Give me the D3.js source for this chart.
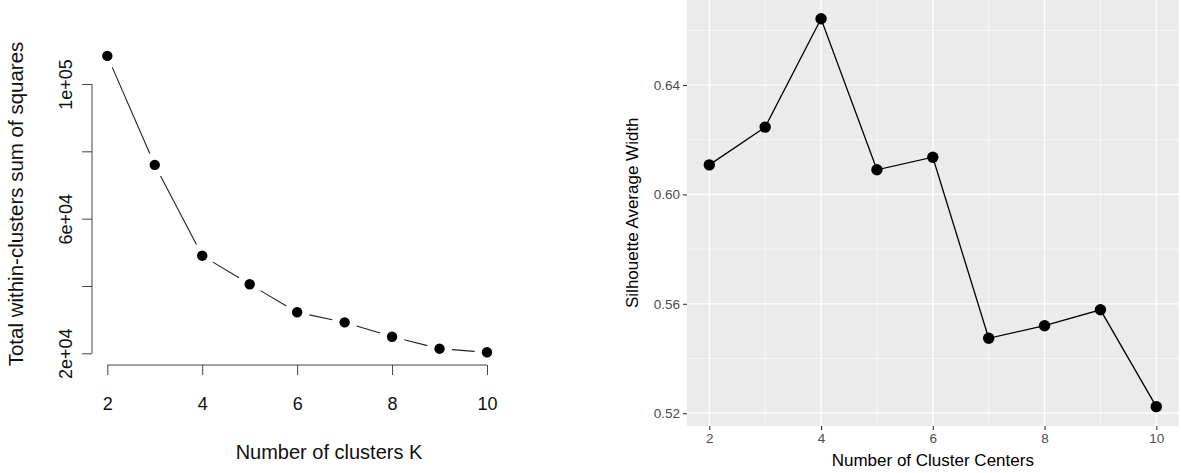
<!DOCTYPE html>
<html>
<head>
<meta charset="utf-8">
<script src="https://cdn.jsdelivr.net/npm/d3@7"></script>
<style>
  body { margin: 0; background: #fff; }
  svg { display: block; font-family: "Liberation Sans", Arial, sans-serif; }
</style>
</head>
<body>
<div class="chart"></div>
<script>
// left panel: elbow plot
const kValues = [2, 3, 4, 5, 6, 7, 8, 9, 10];
const wss = [108350, 75960, 49000, 40500, 32180, 29200, 24930, 21370, 20300];
const wssTicks = [20000, 40000, 60000, 80000, 100000];
const wssTickLabels = ["2e+04", "", "6e+04", "", "1e+05"];
const kTicks = [2, 4, 6, 8, 10];

// right panel: silhouette plot
const centers = [2, 3, 4, 5, 6, 7, 8, 9, 10];
const silhouette = [0.6108, 0.6246, 0.6642, 0.6090, 0.6136, 0.5474, 0.5520, 0.5578, 0.5224];
const silTicks = [0.52, 0.56, 0.60, 0.64];
const silMinor = [0.54, 0.58, 0.62, 0.66];
const centerTicks = [2, 4, 6, 8, 10];
const centerMinor = [3, 5, 7, 9];

const W = 1181, H = 473;

let svg = d3.select('.chart')
  .append('svg')
  .attr('width', W)
  .attr('height', H);

// ---------- left chart ----------
let xL = d3.scaleLinear().domain([2, 10]).range([107.3, 487]);
let yL = d3.scaleLinear().domain([20000, 100000]).range([353.3, 84]);
const axisLeftX = 92, axisBottomY = 365;

let left = svg.append('g');

// y axis
let yAxisL = d3.axisLeft(yL)
  .tickValues(wssTicks)
  .tickFormat((d, i) => wssTickLabels[i])
  .tickSize(10)
  .tickSizeOuter(0);

let gy = left.append('g')
  .attr('transform', 'translate(' + axisLeftX + ',0)')
  .call(yAxisL);
gy.select('.domain')
  .attr('d', 'M0,' + yL(wssTicks[0]) + 'V' + yL(wssTicks[wssTicks.length - 1]));
gy.selectAll('line, path').attr('stroke', '#444');
gy.selectAll('text')
  .attr('transform', 'rotate(-90)')
  .attr('x', 0)
  .attr('y', -20)
  .attr('dy', 0)
  .attr('text-anchor', 'middle')
  .style('font-size', '18px')
  .attr('fill', '#111');

// x axis
let xAxisL = d3.axisBottom(xL)
  .tickValues(kTicks)
  .tickSize(10)
  .tickSizeOuter(0);

let gx = left.append('g')
  .attr('transform', 'translate(0,' + axisBottomY + ')')
  .call(xAxisL);
gx.select('.domain')
  .attr('d', 'M' + xL(kTicks[0]) + ',0H' + xL(kTicks[kTicks.length - 1]));
gx.selectAll('line, path').attr('stroke', '#444');
gx.selectAll('text')
  .attr('y', 45)
  .attr('dy', 0)
  .style('font-size', '18px')
  .attr('fill', '#111');

// axis titles
left.append('text')
  .attr('x', 329)
  .attr('y', 459)
  .attr('text-anchor', 'middle')
  .style('font-size', '20px')
  .attr('fill', '#111')
  .text('Number of clusters K');

left.append('text')
  .attr('transform', 'rotate(-90)')
  .attr('x', -204)
  .attr('y', 23)
  .attr('text-anchor', 'middle')
  .style('font-size', '20.5px')
  .attr('fill', '#111')
  .text('Total within-clusters sum of squares');

// type = "b": segments with gaps around the points
const gap = 12.5;
let pts = kValues.map((k, i) => [xL(k), yL(wss[i])]);
let segs = d3.pairs(pts).map(([a, b]) => {
  let dx = b[0] - a[0], dy = b[1] - a[1];
  let len = Math.sqrt(dx * dx + dy * dy);
  let ux = dx / len, uy = dy / len;
  return [a[0] + ux * gap, a[1] + uy * gap, b[0] - ux * gap, b[1] - uy * gap];
});

left.selectAll('line.seg')
  .data(segs)
  .enter()
  .append('line')
  .attr('class', 'seg')
  .attr('x1', d => d[0])
  .attr('y1', d => d[1])
  .attr('x2', d => d[2])
  .attr('y2', d => d[3])
  .attr('stroke', '#222')
  .attr('stroke-width', 1.1);

left.selectAll('circle')
  .data(pts)
  .enter()
  .append('circle')
  .attr('cx', d => d[0])
  .attr('cy', d => d[1])
  .attr('r', 5.2)
  .attr('fill', '#000');

// ---------- right chart (ggplot style) ----------
let xR = d3.scaleLinear().domain([2, 10]).range([709.3, 1156.3]);
let yR = d3.scaleLinear().domain([0.52, 0.64]).range([413.2, 85]);
const px0 = xR(1.6), px1 = xR(10.4), py0 = yR(0.6713), py1 = yR(0.5153);

let right = svg.append('g');

right.append('rect')
  .attr('x', px0)
  .attr('y', py0)
  .attr('width', px1 - px0)
  .attr('height', py1 - py0)
  .attr('fill', '#EBEBEB');

// minor grid
right.selectAll('line.hminor')
  .data(silMinor)
  .enter()
  .append('line')
  .attr('x1', px0).attr('x2', px1)
  .attr('y1', d => yR(d)).attr('y2', d => yR(d))
  .attr('stroke', '#fff').attr('stroke-width', 0.6);

right.selectAll('line.vminor')
  .data(centerMinor)
  .enter()
  .append('line')
  .attr('y1', py0).attr('y2', py1)
  .attr('x1', d => xR(d)).attr('x2', d => xR(d))
  .attr('stroke', '#fff').attr('stroke-width', 0.6);

// major grid
right.selectAll('line.hmajor')
  .data(silTicks)
  .enter()
  .append('line')
  .attr('x1', px0).attr('x2', px1)
  .attr('y1', d => yR(d)).attr('y2', d => yR(d))
  .attr('stroke', '#fff').attr('stroke-width', 1.2);

right.selectAll('line.vmajor')
  .data(centerTicks)
  .enter()
  .append('line')
  .attr('y1', py0).attr('y2', py1)
  .attr('x1', d => xR(d)).attr('x2', d => xR(d))
  .attr('stroke', '#fff').attr('stroke-width', 1.2);

// axes
let yAxisR = d3.axisLeft(yR)
  .tickValues(silTicks)
  .tickFormat(d3.format('.2f'))
  .tickSize(4)
  .tickPadding(3);

let gyR = right.append('g')
  .attr('transform', 'translate(' + px0 + ',0)')
  .call(yAxisR);
gyR.select('.domain').remove();
gyR.selectAll('line').attr('stroke', '#333').attr('stroke-width', 1.1);
gyR.selectAll('text')
  .style('font-size', '13.5px')
  .attr('fill', '#4D4D4D');

let xAxisR = d3.axisBottom(xR)
  .tickValues(centerTicks)
  .tickSize(4)
  .tickPadding(3);

let gxR = right.append('g')
  .attr('transform', 'translate(0,' + py1 + ')')
  .call(xAxisR);
gxR.select('.domain').remove();
gxR.selectAll('line').attr('stroke', '#333').attr('stroke-width', 1.1);
gxR.selectAll('text')
  .style('font-size', '13.5px')
  .attr('fill', '#4D4D4D');

right.append('text')
  .attr('x', (px0 + px1) / 2)
  .attr('y', 466)
  .attr('text-anchor', 'middle')
  .style('font-size', '17px')
  .attr('fill', '#000')
  .text('Number of Cluster Centers');

right.append('text')
  .attr('transform', 'rotate(-90)')
  .attr('x', -(py0 + py1) / 2)
  .attr('y', 638)
  .attr('text-anchor', 'middle')
  .style('font-size', '17px')
  .attr('fill', '#000')
  .text('Silhouette Average Width');

// line + points
let line = d3.line()
  .x((d, i) => xR(centers[i]))
  .y(d => yR(d));

right.append('path')
  .datum(silhouette)
  .attr('d', line)
  .attr('fill', 'none')
  .attr('stroke', '#000')
  .attr('stroke-width', 1.3);

right.selectAll('circle')
  .data(silhouette)
  .enter()
  .append('circle')
  .attr('cx', (d, i) => xR(centers[i]))
  .attr('cy', d => yR(d))
  .attr('r', 5.7)
  .attr('fill', '#000');
</script>
</body>
</html>
